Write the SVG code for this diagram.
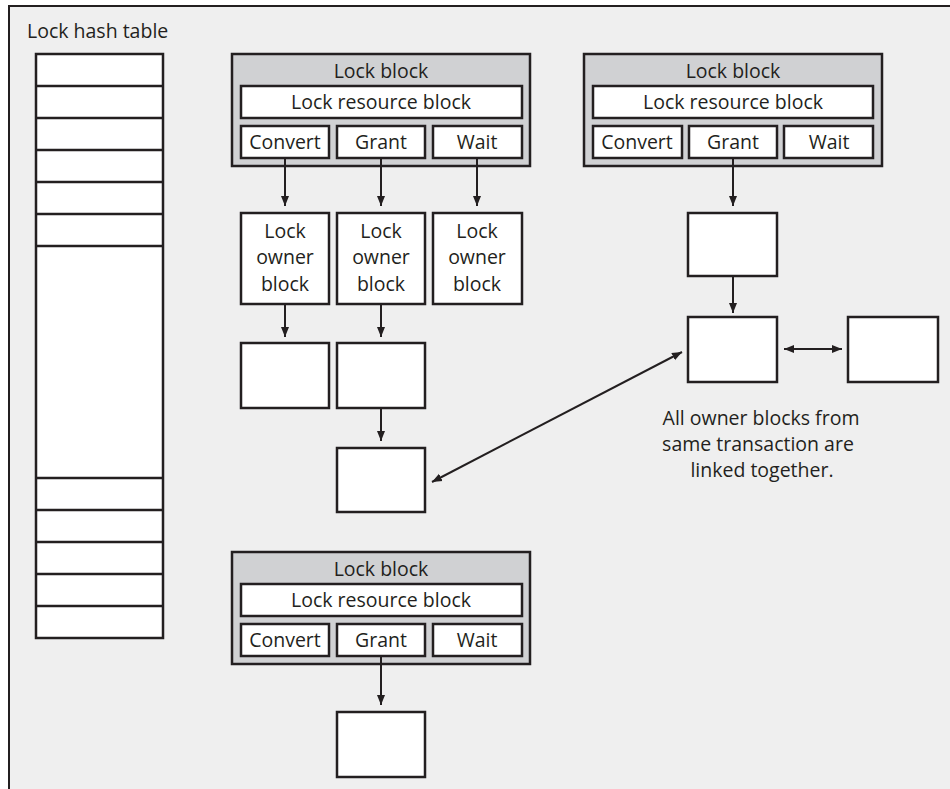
<svg xmlns="http://www.w3.org/2000/svg" width="950" height="789" viewBox="0 0 950 789">
  <defs>
    <marker id="tip" markerUnits="userSpaceOnUse" markerWidth="10" markerHeight="10" viewBox="0 0 10 10" refX="10" refY="5" orient="auto-start-reverse">
      <path d="M0,1 L10,5 L0,9 Z" fill="#231f20"/>
    </marker>
    <style>
      text { font-family: "Open Sans", "Noto Sans", "DejaVu Sans", sans-serif; font-size: 19.5px; fill: #231f20; text-anchor: middle; }
      .frame { fill: #efefef; stroke: #231f20; stroke-width: 2; }
      .lockblock { fill: #d0d1d3; stroke: #231f20; stroke-width: 2.5; }
      .box { fill: #ffffff; stroke: #231f20; stroke-width: 2.5; }
      .row { stroke: #231f20; stroke-width: 2.5; }
      .conn { stroke: #231f20; stroke-width: 2; fill: none; }
    </style>
  </defs>

  <rect x="0" y="0" width="950" height="789" fill="#ffffff"/>
  <rect class="frame" x="9" y="6" width="960" height="800"/>

  <!-- hash table -->
  <g id="hash-table">
    <text x="27" y="38" style="text-anchor:start">Lock hash table</text>
    <rect class="box" x="36" y="54" width="127" height="584"/>
    <path class="row" d="M36,86H163M36,118H163M36,150H163M36,182H163M36,214H163M36,246H163M36,478H163M36,510H163M36,542H163M36,574H163M36,606H163"/>
  </g>

  <!-- lock block 1 -->
  <g id="lock-block-1">
    <rect class="lockblock" x="232" y="54" width="298" height="112"/>
    <text x="381" y="78">Lock block</text>
    <rect class="box" x="241" y="86" width="281" height="32"/>
    <text x="381" y="109">Lock resource block</text>
    <rect class="box" x="241" y="126" width="88" height="32"/>
    <text x="285" y="149">Convert</text>
    <rect class="box" x="337" y="126" width="88" height="32"/>
    <text x="381" y="149">Grant</text>
    <rect class="box" x="433" y="126" width="89" height="32"/>
    <text x="477" y="149">Wait</text>
  </g>

  <g id="owner-convert">
    <rect class="box" x="241" y="213" width="88" height="91"/>
    <text x="285" y="238">Lock</text>
    <text x="285" y="264">owner</text>
    <text x="285" y="291">block</text>
  </g>
  <g id="owner-grant">
    <rect class="box" x="337" y="213" width="88" height="91"/>
    <text x="381" y="238">Lock</text>
    <text x="381" y="264">owner</text>
    <text x="381" y="291">block</text>
  </g>
  <g id="owner-wait">
    <rect class="box" x="433" y="213" width="89" height="91"/>
    <text x="477" y="238">Lock</text>
    <text x="477" y="264">owner</text>
    <text x="477" y="291">block</text>
  </g>

  <g id="owner-convert-2"><rect class="box" x="241" y="343" width="88" height="65"/></g>
  <g id="owner-grant-2"><rect class="box" x="337" y="343" width="88" height="65"/></g>
  <g id="owner-grant-3"><rect class="box" x="337" y="448" width="88" height="64"/></g>

  <!-- lock block 2 -->
  <g id="lock-block-2">
    <rect class="lockblock" x="584" y="54" width="298" height="112"/>
    <text x="733" y="78">Lock block</text>
    <rect class="box" x="593" y="86" width="280" height="32"/>
    <text x="733" y="109">Lock resource block</text>
    <rect class="box" x="593" y="126" width="89" height="32"/>
    <text x="637" y="149">Convert</text>
    <rect class="box" x="689" y="126" width="88" height="32"/>
    <text x="733" y="149">Grant</text>
    <rect class="box" x="784" y="126" width="89" height="32"/>
    <text x="829" y="149">Wait</text>
  </g>

  <g id="owner-b1"><rect class="box" x="688" y="213" width="89" height="63"/></g>
  <g id="owner-b2"><rect class="box" x="688" y="317" width="89" height="65"/></g>
  <g id="owner-b3"><rect class="box" x="848" y="317" width="90" height="65"/></g>

  <g id="note">
    <text x="761" y="425">All owner blocks from</text>
    <text x="758" y="451">same transaction are</text>
    <text x="762" y="477">linked together.</text>
  </g>

  <!-- lock block 3 -->
  <g id="lock-block-3">
    <rect class="lockblock" x="232" y="552" width="298" height="112"/>
    <text x="381" y="576">Lock block</text>
    <rect class="box" x="241" y="584" width="281" height="32"/>
    <text x="381" y="607">Lock resource block</text>
    <rect class="box" x="241" y="624" width="88" height="32"/>
    <text x="285" y="647">Convert</text>
    <rect class="box" x="337" y="624" width="88" height="32"/>
    <text x="381" y="647">Grant</text>
    <rect class="box" x="433" y="624" width="89" height="32"/>
    <text x="477" y="647">Wait</text>
  </g>
  <g id="owner-c1"><rect class="box" x="337" y="712" width="88" height="65"/></g>

  <!-- connectors -->
  <g id="connectors">
    <line class="conn" x1="285" y1="158" x2="285" y2="206" marker-end="url(#tip)"/>
    <line class="conn" x1="381" y1="158" x2="381" y2="206" marker-end="url(#tip)"/>
    <line class="conn" x1="477" y1="158" x2="477" y2="206" marker-end="url(#tip)"/>
    <line class="conn" x1="285" y1="304" x2="285" y2="337" marker-end="url(#tip)"/>
    <line class="conn" x1="381" y1="304" x2="381" y2="337" marker-end="url(#tip)"/>
    <line class="conn" x1="381" y1="408" x2="381" y2="441" marker-end="url(#tip)"/>
    <line class="conn" x1="733" y1="158" x2="733" y2="206" marker-end="url(#tip)"/>
    <line class="conn" x1="733" y1="276" x2="733" y2="313" marker-end="url(#tip)"/>
    <line class="conn" x1="784" y1="349" x2="842" y2="349" marker-start="url(#tip)" marker-end="url(#tip)"/>
    <line class="conn" x1="432" y1="482" x2="682" y2="352" marker-start="url(#tip)" marker-end="url(#tip)"/>
    <line class="conn" x1="381" y1="656" x2="381" y2="705" marker-end="url(#tip)"/>
  </g>
</svg>
